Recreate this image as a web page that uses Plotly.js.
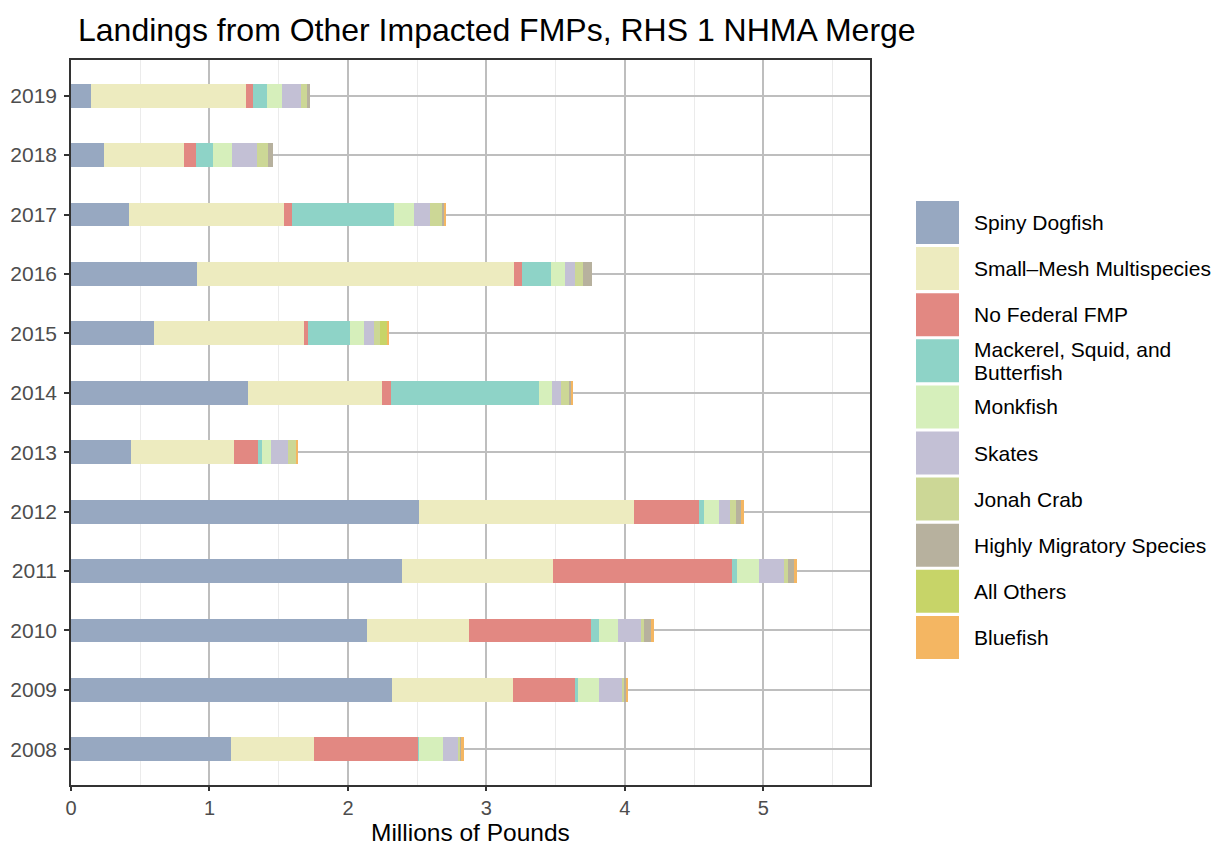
<!DOCTYPE html>
<html>
<head>
<meta charset="utf-8">
<script src="https://cdn.plot.ly/plotly-3.0.1.min.js"></script>
<style>
  html, body { margin: 0; padding: 0; background: #fff; }
  #chart { width: 1217px; height: 846px; }
</style>
</head>
<body>
<div id="chart"></div>
<script>
// --- data (millions of pounds), years bottom to top ---
const years = ['2008', '2009', '2010', '2011', '2012', '2013', '2014', '2015', '2016', '2017', '2018', '2019'];

const spinyDogfish = [1.157, 2.318, 2.137, 2.390, 2.512, 0.436, 1.280, 0.601, 0.912, 0.421, 0.241, 0.147];
const smallMesh    = [0.599, 0.872, 0.736, 1.089, 1.557, 0.742, 0.966, 1.082, 2.285, 1.118, 0.577, 1.118];
const noFederal    = [0.750, 0.447, 0.880, 1.291, 0.469, 0.173, 0.065, 0.029, 0.058, 0.057, 0.087, 0.050];
const mackerel     = [0.007, 0.022, 0.057, 0.043, 0.036, 0.029, 1.066, 0.303, 0.210, 0.736, 0.122, 0.101];
const monkfish     = [0.173, 0.151, 0.137, 0.152, 0.108, 0.065, 0.093, 0.101, 0.101, 0.144, 0.137, 0.108];
const skates       = [0.108, 0.173, 0.166, 0.187, 0.079, 0.122, 0.065, 0.072, 0.072, 0.115, 0.180, 0.137];
const jonahCrab    = [0.022, 0.014, 0.022, 0.029, 0.044, 0.058, 0.058, 0.043, 0.058, 0.094, 0.079, 0.050];
const highlyMig    = [0.007, 0.015, 0.050, 0.043, 0.036, 0.000, 0.022, 0.000, 0.065, 0.012, 0.037, 0.014];
const allOthers    = [0.000, 0.000, 0.000, 0.000, 0.000, 0.007, 0.000, 0.058, 0.000, 0.000, 0.000, 0.000];
const bluefish     = [0.014, 0.007, 0.022, 0.022, 0.022, 0.007, 0.007, 0.008, 0.000, 0.008, 0.000, 0.000];

const seriesNames = ['Spiny Dogfish', 'Small\u2013Mesh Multispecies', 'No Federal FMP',
  'Mackerel, Squid, and\nButterfish', 'Monkfish', 'Skates', 'Jonah Crab',
  'Highly Migratory Species', 'All Others', 'Bluefish'];
const seriesValues = [spinyDogfish, smallMesh, noFederal, mackerel, monkfish, skates,
  jonahCrab, highlyMig, allOthers, bluefish];
const seriesColors = ['#97A8C1', '#EDEBBF', '#E28882', '#8ED3C7', '#D6EFBB', '#C3C0D5',
  '#CCD796', '#B7B19E', '#C7D468', '#F4B662'];

// --- panel geometry (pixels in the 1217x846 page) ---
const W = 1217, H = 846;
const panel = { left: 71, right: 870, top: 60, bottom: 785 };
const font = 'Liberation Sans, Arial, Helvetica, sans-serif';

const px2x = px => (px - panel.left) / (panel.right - panel.left);
const py2y = py => (panel.bottom - py) / (panel.bottom - panel.top);

const traces = seriesNames.map((name, i) => ({
  type: 'bar',
  orientation: 'h',
  name: name.replace('\n', ' '),
  y: years,
  x: seriesValues[i],
  width: 0.4,
  marker: { color: seriesColors[i], line: { width: 0 } },
  hovertemplate: '%{y}: %{x:.3f}<extra>' + name.replace('\n', ' ') + '</extra>'
}));

// --- hand-made legend with large square keys ---
const shapes = [];
const annotations = [];
const keyTop = 201, keyStep = 46.1, keySize = 43, keyLeft = 916, textLeft = 972;
seriesNames.forEach((name, i) => {
  const top = keyTop + i * keyStep;
  shapes.push({
    type: 'rect', xref: 'paper', yref: 'paper', layer: 'above',
    x0: px2x(keyLeft), x1: px2x(keyLeft + keySize),
    y0: py2y(top + keySize), y1: py2y(top),
    fillcolor: seriesColors[i], line: { width: 0 }
  });
  const lines = name.split('\n');
  lines.forEach((ln, j) => {
    const cy = top + keySize / 2 + (j - (lines.length - 1) / 2) * 23;
    annotations.push({
      xref: 'paper', yref: 'paper', x: px2x(textLeft), y: py2y(cy),
      xanchor: 'left', yanchor: 'middle', showarrow: false,
      text: ln, font: { family: font, size: 21, color: '#000' }
    });
  });
});

// x axis title, set below the tick labels
annotations.push({
  xref: 'paper', yref: 'paper', x: 0.5, y: py2y(832),
  xanchor: 'center', yanchor: 'middle', showarrow: false,
  text: 'Millions of Pounds', font: { family: font, size: 24.5, color: '#000' }
});

const layout = {
  width: W, height: H,
  margin: { l: panel.left, r: W - panel.right, t: panel.top, b: H - panel.bottom, pad: 0 },
  paper_bgcolor: '#fff',
  plot_bgcolor: '#fff',
  barmode: 'stack',
  showlegend: false,
  font: { family: font },
  title: {
    text: 'Landings from Other Impacted FMPs, RHS 1 NHMA Merge',
    font: { family: font, size: 32, color: '#000' },
    xref: 'paper', x: px2x(78), xanchor: 'left',
    yref: 'container', y: 1 - 30 / H, yanchor: 'middle'
  },
  xaxis: {
    range: [0, 5.77],
    dtick: 1, tick0: 0,
    showgrid: true, gridcolor: '#BEBEBE', gridwidth: 2.4,
    minor: { dtick: 0.5, tick0: 0, showgrid: true, gridcolor: '#EBEBEB', gridwidth: 1.2, ticklen: 0 },
    zeroline: false,
    showline: true, mirror: true, linecolor: '#333333', linewidth: 1.6,
    ticks: 'outside', ticklen: 4, tickwidth: 1.6, tickcolor: '#333333',
    tickfont: { family: font, size: 20, color: '#4D4D4D' },
    fixedrange: true
  },
  yaxis: {
    type: 'category',
    categoryorder: 'array', categoryarray: years,
    range: [-0.6, 11.6],
    showgrid: true, gridcolor: '#BEBEBE', gridwidth: 2.4,
    zeroline: false,
    showline: true, mirror: true, linecolor: '#333333', linewidth: 1.6,
    ticks: 'outside', ticklen: 5, tickwidth: 1.6, tickcolor: '#333333',
    ticklabelstandoff: 3,
    tickfont: { family: font, size: 21, color: '#4D4D4D' },
    fixedrange: true
  },
  shapes: shapes,
  annotations: annotations
};

Plotly.newPlot('chart', traces, layout, { displayModeBar: false, responsive: false });
</script>
</body>
</html>
